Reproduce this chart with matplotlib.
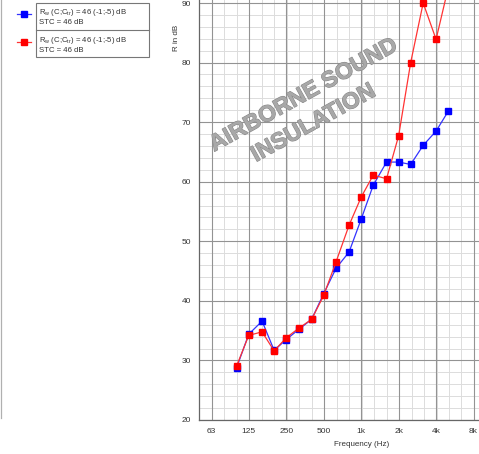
import matplotlib
matplotlib.use("Agg")
import matplotlib.pyplot as plt
import matplotlib.patheffects as pe
from matplotlib.lines import Line2D
from matplotlib.patches import Rectangle
import math

plt.rcParams['font.family'] = ['Liberation Sans', 'DejaVu Sans']
plt.rcParams['mathtext.fontset'] = 'custom'
plt.rcParams['mathtext.rm'] = 'Liberation Sans'
plt.rcParams['mathtext.it'] = 'Liberation Sans'

freqs = [100, 125, 160, 200, 250, 315, 400, 500, 630, 800, 1000, 1250,
         1600, 2000, 2500, 3150, 4000, 5000]
blue_vals = [28.8, 34.4, 36.6, 31.7, 33.5, 35.2, 36.9, 41.2, 45.5, 48.2,
             53.7, 59.4, 63.3, 63.3, 62.9, 66.1, 68.5, 71.8]
red_vals = [29.1, 34.2, 34.8, 31.6, 33.8, 35.4, 36.9, 40.9, 46.6, 52.7,
            57.4, 61.1, 60.5, 67.7, 80.0, 90.0, 83.9, 92.5]
xtick_vals = [63, 125, 250, 500, 1000, 2000, 4000, 8000]
xtick_labels = ['63', '125', '250', '500', '1k', '2k', '4k', '8k']
ytick_vals = [20, 30, 40, 50, 60, 70, 80, 90]
legend_text = [r'R$_{\mathrm{w}}$ (C;C$_{\mathrm{tr}}$) = 46 (-1;-5) dB', 'STC = 46 dB']

W, H = 479, 454
fig = plt.figure(figsize=(W / 100, H / 100), dpi=100)

# axes geometry in pixels
x_left = 199.2
px_oct = 37.47
x_right = x_left + px_oct * math.log2(10000 / 50)
y20 = 420.0
px_db = 5.957
ytop_val = 91.0
y_top = y20 - px_db * (ytop_val - 20)
ax = fig.add_axes([x_left / W, (H - y20) / H, (x_right - x_left) / W, (y20 - y_top) / H])
ax.set_xscale('log')
ax.set_xlim(50, 10000)
ax.set_ylim(20, ytop_val)

# grid
third = [50 * 2 ** (k / 3) for k in range(0, 24)]
for f in third:
    ax.axvline(f, color='#dcdcdc', lw=0.7, zorder=0)
for v in range(20, 92, 2):
    ax.axhline(v, color='#dcdcdc', lw=0.7, zorder=0)
for f in xtick_vals:
    ax.axvline(f, color='#939393', lw=0.8, zorder=0.5)
for v in ytick_vals:
    ax.axhline(v, color='#939393', lw=0.8, zorder=0.5)

ax.set_xticks(xtick_vals)
ax.set_xticklabels(xtick_labels)
ax.xaxis.set_minor_locator(matplotlib.ticker.NullLocator())
ax.set_yticks(ytick_vals)
ax.tick_params(length=0, labelsize=6, colors='#333333', pad=6)
for s in ['top', 'right']:
    ax.spines[s].set_visible(False)
for s in ['left', 'bottom']:
    ax.spines[s].set_color('#666666')
    ax.spines[s].set_linewidth(0.9)

ax.plot(freqs, blue_vals, color='#3333ff', lw=0.9, marker='s', ms=5,
        mfc='#0000ff', mec='#0000ff', zorder=3, clip_on=True)
ax.plot(freqs, red_vals, color='#ff3333', lw=0.9, marker='s', ms=5,
        mfc='#ff0000', mec='#ff0000', zorder=4, clip_on=True)

fig.text(362 / W, 1 - 445 / H, 'Frequency (Hz)', ha='center', va='center',
         fontsize=5.8, color='#333333')
fig.text(176 / W, 1 - 38 / H, 'R in dB', ha='center', va='center',
         rotation=90, fontsize=5.8, color='#333333')

# watermark
pe_stroke = [pe.withStroke(linewidth=0.8, foreground='#888888')]
fig.text(303 / W, 1 - 95 / H, 'AIRBORNE SOUND', ha='center', va='center',
         rotation=29, fontsize=16.5, fontweight='bold', color='#a8a8a8',
         path_effects=pe_stroke, zorder=5)
fig.text(313 / W, 1 - 123 / H, 'INSULATION', ha='center', va='center',
         rotation=29, fontsize=16.5, fontweight='bold', color='#a8a8a8',
         path_effects=pe_stroke, zorder=5)

# legend box
fig.add_artist(Rectangle((36 / W, 1 - 57 / H), (149 - 36) / W, 54 / H,
                         transform=fig.transFigure, fill=False,
                         edgecolor='#777777', lw=0.8))
fig.add_artist(Line2D([36 / W, 149 / W], [1 - 29.5 / H, 1 - 29.5 / H],
                      transform=fig.transFigure, color='#777777', lw=0.8))
for yc, col, mcol in [(14, '#3333ff', '#0000ff'), (42, '#ff3333', '#ff0000')]:
    fig.add_artist(Line2D([17 / W, 31 / W], [1 - yc / H, 1 - yc / H],
                          transform=fig.transFigure, color=col, lw=0.9))
    fig.add_artist(Line2D([24 / W], [1 - yc / H], transform=fig.transFigure,
                          marker='s', ms=5, mfc=mcol, mec=mcol, lw=0))
for y0 in [12, 40]:
    fig.text(39 / W, 1 - y0 / H, legend_text[0], ha='left', va='center',
             fontsize=5.6, color='#333333')
    fig.text(39 / W, 1 - (y0 + 10) / H, legend_text[1], ha='left', va='center',
             fontsize=5.6, color='#333333')

# left border line of neighbouring panel
fig.add_artist(Line2D([1.2 / W, 1.2 / W], [1 - 0 / H, 1 - 418 / H],
                      transform=fig.transFigure, color='#b0b0b0', lw=0.9))

fig.savefig('out.png', dpi=100)
